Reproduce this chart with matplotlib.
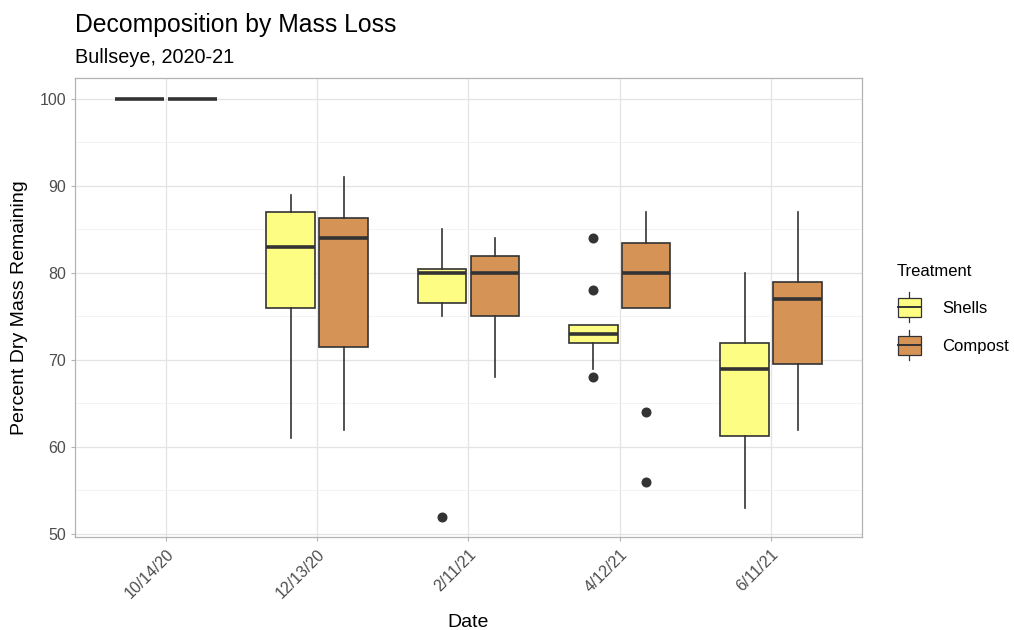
import matplotlib

matplotlib.use("Agg")
import matplotlib.pyplot as plt
from matplotlib.legend_handler import HandlerBase
from matplotlib.lines import Line2D
from matplotlib.patches import Patch, Rectangle
from matplotlib.ticker import MultipleLocator

plt.rcParams["font.family"] = ["Liberation Sans", "DejaVu Sans"]

# Summary statistics per sampling date (percent dry mass remaining)
dates = ["10/14/20", "12/13/20", "2/11/21", "4/12/21", "6/11/21"]
treatments = ["Shells", "Compost"]

shells_whislo = [100, 61, 75, 69, 53]
shells_q1 = [100, 76, 76.5, 72, 61.3]
shells_med = [100, 83, 80, 73, 69]
shells_q3 = [100, 87, 80.5, 74, 72]
shells_whishi = [100, 89, 85, 74, 80]
shells_fliers = [[], [], [52], [84, 78, 68], []]

compost_whislo = [100, 62, 68, 76, 62]
compost_q1 = [100, 71.5, 75, 76, 69.5]
compost_med = [100, 84, 80, 80, 77]
compost_q3 = [100, 86.3, 82, 83.5, 79]
compost_whishi = [100, 91, 84, 87, 87]
compost_fliers = [[], [], [], [64, 56], []]

fill_colors = {"Shells": "#FDFD84", "Compost": "#D69356"}
line_color = "#333333"


def build_stats(whislo, q1, med, q3, whishi, fliers):
    return [
        {"whislo": a, "q1": b, "med": c, "q3": d, "whishi": e, "fliers": f}
        for a, b, c, d, e, f in zip(whislo, q1, med, q3, whishi, fliers)
    ]


series = {
    "Shells": build_stats(shells_whislo, shells_q1, shells_med, shells_q3, shells_whishi, shells_fliers),
    "Compost": build_stats(compost_whislo, compost_q1, compost_med, compost_q3, compost_whishi, compost_fliers),
}
offsets = {"Shells": -0.175, "Compost": 0.175}


class BoxKeyHandler(HandlerBase):
    """Legend key drawn as a small boxplot glyph."""

    def create_artists(self, legend, orig_handle, xdescent, ydescent, width, height, fontsize, trans):
        cx = width / 2 - xdescent
        bw = width * 0.9
        bh = height * 1.05
        by = -ydescent + (height - bh) / 2
        rect = Rectangle((cx - bw / 2, by), bw, bh, facecolor=orig_handle.get_facecolor(),
                         edgecolor=line_color, linewidth=0.9, transform=trans)
        mid = Line2D([cx - bw / 2, cx + bw / 2], [by + bh / 2] * 2, color=line_color, lw=1.4, transform=trans)
        top = Line2D([cx, cx], [by + bh, by + bh + height * 0.3], color=line_color, lw=0.9, transform=trans)
        bot = Line2D([cx, cx], [by, by - height * 0.3], color=line_color, lw=0.9, transform=trans)
        return [top, bot, rect, mid]


fig = plt.figure(figsize=(10.14, 6.3), dpi=100, facecolor="white")
ax = fig.add_axes([0.074, 0.147, 0.776, 0.729])

for name in treatments:
    positions = [i + offsets[name] for i in range(len(dates))]
    ax.bxp(
        series[name],
        positions=positions,
        widths=0.32,
        patch_artist=True,
        showcaps=False,
        boxprops={"facecolor": fill_colors[name], "edgecolor": line_color, "linewidth": 1.2},
        whiskerprops={"color": line_color, "linewidth": 1.2},
        medianprops={"color": line_color, "linewidth": 2.6, "solid_capstyle": "butt"},
        flierprops={"marker": "o", "markerfacecolor": line_color, "markeredgecolor": line_color,
                    "markersize": 6.2},
        zorder=3,
    )

ax.set_xlim(-0.6, len(dates) - 0.4)
ax.set_ylim(49.6, 102.4)
ax.set_xticks(range(len(dates)))
ax.set_xticklabels(dates, rotation=45, ha="right", rotation_mode="anchor")
ax.yaxis.set_major_locator(MultipleLocator(10))
ax.yaxis.set_minor_locator(MultipleLocator(5))

ax.grid(True, which="major", color="#E3E3E3", linewidth=0.9, zorder=0)
ax.grid(True, which="minor", axis="y", color="#F1F1F1", linewidth=0.6, zorder=0)
ax.set_axisbelow(True)
for spine in ax.spines.values():
    spine.set_color("#B3B3B3")
    spine.set_linewidth(0.9)
ax.tick_params(axis="both", which="major", colors="#B3B3B3", labelcolor="#4D4D4D", labelsize=11.5, length=3)
ax.tick_params(axis="y", which="minor", length=0)

ax.set_xlabel("Date", fontsize=14, color="black", labelpad=9)
ax.set_ylabel("Percent Dry Mass Remaining", fontsize=14, color="black", labelpad=8)

fig.text(0.074, 0.960, "Decomposition by Mass Loss", ha="left", va="center", fontsize=17.8, color="black")
fig.text(0.074, 0.908, "Bullseye, 2020-21", ha="left", va="center", fontsize=14.3, color="black")

handles = [Patch(facecolor=fill_colors[n], label=n) for n in treatments]
leg = fig.legend(
    handles=handles,
    labels=treatments,
    title="Treatment",
    loc="upper left",
    bbox_to_anchor=(0.873, 0.600),
    frameon=False,
    fontsize=12,
    title_fontsize=12,
    handler_map={Patch: BoxKeyHandler()},
    handlelength=1.5,
    handleheight=1.3,
    handletextpad=1.2,
    labelspacing=1.2,
    borderaxespad=0.3,
)
leg._legend_box.align = "left"
leg._legend_box.sep = 14

fig.savefig("out.png", dpi=100, facecolor="white")
